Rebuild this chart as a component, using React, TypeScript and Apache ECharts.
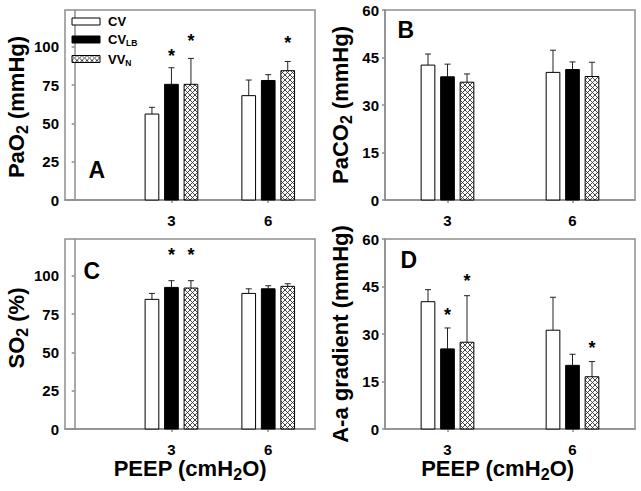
import React, { useEffect, useRef } from "react";
import * as echarts from "echarts";

// ---------- data ----------
const PEEP = [3, 6];
const GROUPS = ["CV", "CV_LB", "VV_N"];

// Panel A: PaO2 (mmHg)
const PAO2_CV = [56.1, 68.1];
const PAO2_CV_SD = [4.4, 10.2];
const PAO2_CVLB = [75.5, 78.0];
const PAO2_CVLB_SD = [10.8, 3.8];
const PAO2_VVN = [75.5, 84.4];
const PAO2_VVN_SD = [16.9, 6.0];
const PAO2_STAR_CV = [null, null];
const PAO2_STAR_CVLB = [96.7, null];
const PAO2_STAR_VVN = [106.5, 105.4];

// Panel B: PaCO2 (mmHg)
const PACO2_CV = [42.6, 40.3];
const PACO2_CV_SD = [3.5, 7.0];
const PACO2_CVLB = [38.9, 41.2];
const PACO2_CVLB_SD = [4.0, 2.4];
const PACO2_VVN = [37.2, 39.0];
const PACO2_VVN_SD = [2.6, 4.5];
const PACO2_STAR = [null, null];

// Panel C: SO2 (%)
const SO2_CV = [84.6, 88.5];
const SO2_CV_SD = [3.9, 3.0];
const SO2_CVLB = [92.4, 91.5];
const SO2_CVLB_SD = [4.4, 2.0];
const SO2_VVN = [92.0, 93.1];
const SO2_VVN_SD = [4.8, 1.7];
const SO2_STAR_CV = [null, null];
const SO2_STAR_CVLB = [116.2, null];
const SO2_STAR_VVN = [116.2, null];

// Panel D: A-a gradient (mmHg)
const AA_CV = [40.2, 31.2];
const AA_CV_SD = [3.8, 10.4];
const AA_CVLB = [25.3, 20.1];
const AA_CVLB_SD = [6.6, 3.5];
const AA_VVN = [27.4, 16.5];
const AA_VVN_SD = [14.7, 4.8];
const AA_STAR_CV = [null, null];
const AA_STAR_CVLB = [37.3, null];
const AA_STAR_VVN = [47.9, 26.8];

const TICKS_AC = [0, 25, 50, 75, 100];
const TICKS_BD = [0, 15, 30, 45, 60];
const X_TICKS = [3, 6];

// ---------- styling ----------
const FONT = "'Liberation Sans', Arial, Helvetica, sans-serif";
const GRAY = "#8e8e8e";
const BAR_W = 13.7;
const STEP = 19.5;
const CAP = 6;

function makeHatch() {
  const c = document.createElement("canvas");
  c.width = 5;
  c.height = 5;
  const ctx = c.getContext("2d")!;
  ctx.fillStyle = "#ffffff";
  ctx.fillRect(0, 0, 5, 5);
  ctx.strokeStyle = "#333333";
  ctx.lineWidth = 0.9;
  ctx.beginPath();
  ctx.moveTo(-1, -1);
  ctx.lineTo(6, 6);
  ctx.moveTo(6, -1);
  ctx.lineTo(-1, 6);
  ctx.stroke();
  return { image: c, repeat: "repeat" };
}

function barSeries(
  name: string,
  gi: number,
  axis: number,
  means: number[],
  sds: number[],
  stars: (number | null)[],
  fill: any
) {
  return {
    type: "custom",
    name,
    xAxisIndex: axis,
    yAxisIndex: axis,
    itemStyle: { color: fill, borderColor: "#000", borderWidth: 1 },
    encode: { x: 0, y: 1 },
    data: PEEP.map((p, i) => [p, means[i], sds[i]]),
    renderItem: (params: any, api: any) => {
      const x = api.value(0);
      const m = api.value(1);
      const sd = api.value(2);
      const base = api.coord([x, 0]);
      const top = api.coord([x, m]);
      const et = api.coord([x, m + sd]);
      const cx = base[0] + (gi - 1) * STEP;
      const children: any[] = [
        {
          type: "line",
          shape: { x1: cx, y1: top[1], x2: cx, y2: et[1] },
          style: { stroke: "#222", lineWidth: 1 },
        },
        {
          type: "line",
          shape: { x1: cx - CAP / 2, y1: et[1], x2: cx + CAP / 2, y2: et[1] },
          style: { stroke: "#222", lineWidth: 1 },
        },
        {
          type: "rect",
          shape: { x: cx - BAR_W / 2, y: top[1], width: BAR_W, height: base[1] - top[1] },
          style: { fill, stroke: "#000", lineWidth: 1 },
        },
      ];
      const s = stars[params.dataIndex];
      if (s != null) {
        children.push({
          type: "text",
          x: cx,
          y: api.coord([x, s])[1] + 4,
          style: {
            text: "*",
            fontSize: 18,
            fontWeight: "bold",
            fontFamily: FONT,
            fill: "#000",
            align: "center",
            verticalAlign: "middle",
          },
        });
      }
      return { type: "group", children };
    },
  };
}

const nameRich = {
  a: { fontSize: 22, fontWeight: "bold", fontFamily: FONT, color: "#000", lineHeight: 28, verticalAlign: "middle" },
  s: { fontSize: 16, fontWeight: "bold", fontFamily: FONT, color: "#000", lineHeight: 15, verticalAlign: "bottom" },
};

function yAxis(idx: number, max: number, ticks: number[], name: string, padding: number[]) {
  return {
    type: "value",
    gridIndex: idx,
    min: 0,
    max,
    name,
    nameLocation: "middle",
    nameGap: 31,
    nameTextStyle: { rich: nameRich, padding },
    axisLine: { show: true, lineStyle: { color: GRAY, width: 1.5 } },
    axisTick: { show: true, inside: false, length: 3, customValues: ticks, lineStyle: { color: GRAY, width: 1.5 } },
    axisLabel: { customValues: ticks, margin: 6, fontSize: 15, fontWeight: "bold", fontFamily: FONT, color: "#000" },
    splitLine: { show: false },
  };
}

function xAxis(idx: number, min: number, max: number, name: string, padding: number[]) {
  return {
    type: "value",
    gridIndex: idx,
    min,
    max,
    name,
    nameLocation: "middle",
    nameGap: 23,
    nameTextStyle: { rich: nameRich, padding },
    axisLine: { show: true, onZero: false, lineStyle: { color: GRAY, width: 1.5 } },
    axisTick: { show: true, inside: false, length: 3, customValues: X_TICKS, lineStyle: { color: GRAY, width: 1.5 } },
    axisLabel: { customValues: X_TICKS, margin: 13, fontSize: 15, fontWeight: "bold", fontFamily: FONT, color: "#000" },
    splitLine: { show: false },
  };
}

const LEGEND_TEXT: Record<string, string> = {
  CV: "{b|CV}",
  CV_LB: "{b|CV}{s|LB}",
  VV_N: "{b|VV}{s|N}",
};

export default function App() {
  const ref = useRef<HTMLDivElement>(null);
  useEffect(() => {
    if (!ref.current) return;
    const chart = echarts.init(ref.current, null, { renderer: "svg" });
    const hatch = makeHatch();
    const fills = ["#ffffff", "#000000", hatch];

    const gridBase = { width: 250, height: 190, show: true, borderColor: GRAY, borderWidth: 1.5, backgroundColor: "transparent" };

    const panelLetter = (text: string, x: number, y: number) => ({
      type: "text",
      x,
      y,
      style: { text, fontSize: 23, fontWeight: "bold", fontFamily: FONT, fill: "#000", align: "center", verticalAlign: "middle" },
    });

    chart.setOption({
      animation: false,
      backgroundColor: "#ffffff",
      grid: [
        { ...gridBase, left: 65, top: 10 },
        { ...gridBase, left: 385, top: 10 },
        { ...gridBase, left: 65, top: 239 },
        { ...gridBase, left: 385, top: 239 },
      ],
      xAxis: [
        xAxis(0, -0.3, 7.45, "", [0, 0, 0, 0]),
        xAxis(1, 1.5, 7.5, "", [0, 0, 0, 0]),
        xAxis(2, -0.3, 7.45, "{a|PEEP (cmH}{s|2}{a|O)}", [0, 0, 0, 0]),
        xAxis(3, 1.5, 7.5, "{a|PEEP (cmH}{s|2}{a|O)}", [0, 25, 0, 0]),
      ],
      yAxis: [
        yAxis(0, 124, TICKS_AC, "{a|PaO}{s|2}{a| (mmHg)}", [0, 4, 0, 0]),
        yAxis(1, 60, TICKS_BD, "{a|PaCO}{s|2}{a| (mmHg)}", [0, 0, 0, 0]),
        yAxis(2, 124, TICKS_AC, "{a|SO}{s|2}{a| (%)}", [0, 0, 0, 12]),
        yAxis(3, 60, TICKS_BD, "{a|A-a gradient (mmHg)}", [0, 0, 0, 0]),
      ],
      legend: {
        orient: "vertical",
        left: 71.5,
        top: 15,
        padding: 0,
        itemGap: 5,
        itemWidth: 28,
        itemHeight: 7,
        icon: "rect",
        data: GROUPS,
        selectedMode: false,
        itemStyle: { borderColor: "#000", borderWidth: 1 },
        formatter: (n: string) => LEGEND_TEXT[n],
        textStyle: {
          padding: [0, 0, 0, 3],
          rich: {
            b: { fontSize: 13, fontWeight: "bold", fontFamily: FONT, color: "#000", lineHeight: 16, verticalAlign: "middle" },
            s: { fontSize: 8.5, fontWeight: "bold", fontFamily: FONT, color: "#000", lineHeight: 3, verticalAlign: "bottom" },
          },
        },
      },
      graphic: [
        panelLetter("A", 96.7, 170),
        panelLetter("B", 405.8, 30),
        panelLetter("C", 91.7, 271),
        panelLetter("D", 408.7, 260),
      ],
      series: [
        barSeries("CV", 0, 0, PAO2_CV, PAO2_CV_SD, PAO2_STAR_CV, fills[0]),
        barSeries("CV_LB", 1, 0, PAO2_CVLB, PAO2_CVLB_SD, PAO2_STAR_CVLB, fills[1]),
        barSeries("VV_N", 2, 0, PAO2_VVN, PAO2_VVN_SD, PAO2_STAR_VVN, fills[2]),
        barSeries("CV", 0, 1, PACO2_CV, PACO2_CV_SD, PACO2_STAR, fills[0]),
        barSeries("CV_LB", 1, 1, PACO2_CVLB, PACO2_CVLB_SD, PACO2_STAR, fills[1]),
        barSeries("VV_N", 2, 1, PACO2_VVN, PACO2_VVN_SD, PACO2_STAR, fills[2]),
        barSeries("CV", 0, 2, SO2_CV, SO2_CV_SD, SO2_STAR_CV, fills[0]),
        barSeries("CV_LB", 1, 2, SO2_CVLB, SO2_CVLB_SD, SO2_STAR_CVLB, fills[1]),
        barSeries("VV_N", 2, 2, SO2_VVN, SO2_VVN_SD, SO2_STAR_VVN, fills[2]),
        barSeries("CV", 0, 3, AA_CV, AA_CV_SD, AA_STAR_CV, fills[0]),
        barSeries("CV_LB", 1, 3, AA_CVLB, AA_CVLB_SD, AA_STAR_CVLB, fills[1]),
        barSeries("VV_N", 2, 3, AA_VVN, AA_VVN_SD, AA_STAR_VVN, fills[2]),
      ],
    });
    return () => chart.dispose();
  }, []);
  return (
    <div
      ref={ref}
      style={{ position: "fixed", left: 0, top: 0, width: 641, height: 491, background: "#fff" }}
    />
  );
}
